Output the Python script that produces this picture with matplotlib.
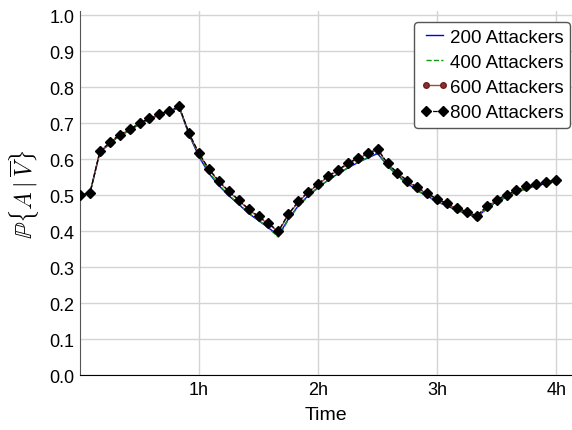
import matplotlib
matplotlib.use("Agg")
import matplotlib.pyplot as plt

# -----------------------------
# Data (time in minutes, 5 min steps)
# -----------------------------
times = list(range(0, 241, 5))

att_200 = [0.500, 0.505, 0.619, 0.643, 0.665, 0.679, 0.697, 0.710, 0.723, 0.731, 0.743,
           0.667, 0.606, 0.560, 0.526, 0.498, 0.474, 0.449, 0.429, 0.409, 0.387,
           0.433, 0.470, 0.498, 0.521, 0.541, 0.559, 0.575, 0.590, 0.603, 0.615,
           0.582, 0.555, 0.532, 0.513, 0.497, 0.482, 0.470, 0.458, 0.448, 0.437,
           0.463, 0.481, 0.495, 0.508, 0.518, 0.526, 0.532, 0.538]

att_400 = [0.500, 0.505, 0.618, 0.642, 0.664, 0.679, 0.697, 0.711, 0.723, 0.732, 0.744,
           0.669, 0.609, 0.563, 0.528, 0.500, 0.475, 0.450, 0.430, 0.408, 0.383,
           0.431, 0.468, 0.496, 0.520, 0.541, 0.558, 0.576, 0.591, 0.604, 0.617,
           0.580, 0.553, 0.530, 0.512, 0.496, 0.481, 0.469, 0.457, 0.447, 0.436,
           0.461, 0.480, 0.494, 0.507, 0.517, 0.525, 0.532, 0.537]

att_600 = [0.500, 0.505, 0.620, 0.645, 0.667, 0.681, 0.699, 0.712, 0.725, 0.733, 0.745,
           0.670, 0.614, 0.570, 0.537, 0.509, 0.485, 0.459, 0.439, 0.419, 0.398,
           0.445, 0.480, 0.507, 0.529, 0.551, 0.568, 0.586, 0.601, 0.614, 0.626,
           0.587, 0.560, 0.538, 0.519, 0.503, 0.487, 0.475, 0.462, 0.452, 0.440,
           0.467, 0.485, 0.499, 0.512, 0.522, 0.529, 0.535, 0.540]

att_800 = [0.500, 0.505, 0.621, 0.646, 0.668, 0.682, 0.700, 0.713, 0.726, 0.734, 0.746,
           0.671, 0.616, 0.572, 0.539, 0.511, 0.487, 0.461, 0.441, 0.421, 0.400,
           0.447, 0.482, 0.509, 0.531, 0.553, 0.570, 0.588, 0.603, 0.616, 0.628,
           0.588, 0.562, 0.540, 0.521, 0.505, 0.489, 0.477, 0.464, 0.454, 0.442,
           0.469, 0.487, 0.501, 0.514, 0.524, 0.531, 0.537, 0.542]

x_ticks = [60, 120, 180, 240]
x_tick_labels = ["1h", "2h", "3h", "4h"]
y_ticks = [i / 10 for i in range(11)]

# -----------------------------
# Style
# -----------------------------
plt.rcParams['font.family'] = ['Liberation Sans', 'DejaVu Sans']
plt.rcParams['mathtext.fontset'] = 'cm'

fig = plt.figure(figsize=(5.72, 4.31), dpi=100)
ax = fig.add_axes([0.1399, 0.1276, 0.8601, 0.8436])

ax.plot(times, att_200, color='#0000ee', lw=1.0, label='200 Attackers', zorder=3)
ax.plot(times, att_400, color='#119911', lw=1.0, ls='--', label='400 Attackers', zorder=3)
ax.plot(times, att_600, color='#a04a40', lw=1.0, marker='o', ms=4.0,
        mfc='#8b2f2f', mec='#6b1f1f', label='600 Attackers', zorder=4)
ax.plot(times, att_800, color='black', lw=0.9, ls='--', marker='D', ms=5.2,
        mfc='black', mec='black', label='800 Attackers', zorder=5)

ax.set_xlim(0, 248)
ax.set_ylim(0, 1.01)
ax.set_xticks(x_ticks)
ax.set_xticklabels(x_tick_labels)
ax.set_yticks(y_ticks)
ax.set_yticklabels([f"{v:.1f}" for v in y_ticks])

ax.grid(True, color='#d4d4d4', lw=1.0)
ax.set_axisbelow(True)
ax.tick_params(axis='both', direction='in', length=0, labelsize=13, pad=4)

ax.spines['top'].set_visible(False)
ax.spines['right'].set_visible(False)
ax.spines['left'].set_color('#555555')
ax.spines['bottom'].set_color('black')

ax.set_xlabel("Time", fontsize=14, labelpad=6)
ax.set_ylabel(r"$\mathbb{P}\{A \mid \overline{V}\}$", fontsize=17, labelpad=6)

leg = ax.legend(loc='upper right', bbox_to_anchor=(0.996, 0.971), borderaxespad=0,
                fontsize=13.5, numpoints=2, handlelength=1.5, handletextpad=0.05,
                labelspacing=0.43, borderpad=0.35, fancybox=True, framealpha=1,
                edgecolor='#555555')

fig.savefig("out.png", dpi=100)
